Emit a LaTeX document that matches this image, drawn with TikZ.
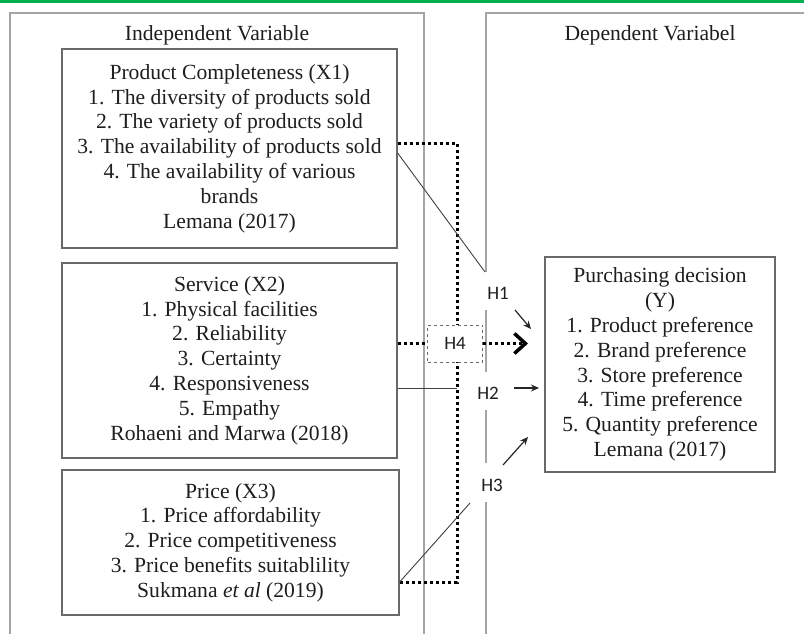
\documentclass[tikz,border=0pt]{standalone}
\usepackage{fontspec}
\setmainfont{Liberation Serif}
\newfontfamily\hfont{Carlito}
\usetikzlibrary{arrows.meta,calc}
\definecolor{topgreen}{RGB}{0,176,80}
\definecolor{boxgray}{RGB}{105,105,105}
\definecolor{outergray}{RGB}{165,165,165}
\definecolor{txt}{RGB}{30,30,30}
\begin{document}
\begin{tikzpicture}[x=1pt,y=-1pt,
  varbox/.style={draw=boxgray,line width=1.3pt,fill=white,align=center,inner sep=0pt,text=txt,font=\fontsize{21.6}{24.8}\selectfont},
  outer/.style={draw=outergray,line width=2pt},
  titletext/.style={text=txt,font=\fontsize{21.6}{24.8}\selectfont,inner sep=0pt},
  hlabel/.style={text=txt,font=\hfont\fontsize{19}{21}\selectfont,inner sep=1pt},
  h4line/.style={line width=3pt,dash pattern=on 3pt off 3pt,black},
  harrow/.style={line width=1.2pt,black!85,-{Stealth[length=8pt,width=7pt]}},
  hline/.style={line width=0.9pt,black!75}
]
\fill[white] (0,0) rectangle (804,634);
\useasboundingbox (0,0) rectangle (804,634);
\draw[topgreen,line width=3pt] (0,1.5) -- (804,1.5);

% outer frames
\draw[outer] (10,634) -- (10,13) -- (424,13) -- (424,634);
\draw[outer] (804,13) -- (486,13) -- (486,272);
\draw[outer] (486,310) -- (486,372);
\draw[outer] (486,410) -- (486,463);
\draw[outer] (486,502) -- (486,634);

\node[titletext] (ivlabel) at (217,35) {Independent Variable};
\node[titletext] (dvlabel) at (650,35) {Dependent Variabel};

% dotted H4 route
\coordinate (dtop) at (457,143);
\coordinate (dbot) at (457,582);

% variable boxes
\node[varbox,minimum width=335pt,minimum height=199pt] (pc) at (229.5,148.5)
 {Product Completeness (X1)\\1. The diversity of products sold\\2. The variety of products sold\\3. The availability of products sold\\4. The availability of various\\brands\\Lemana (2017)};
\node[varbox,minimum width=335pt,minimum height=195pt] (sv) at (229.5,360.5)
 {Service (X2)\\1. Physical facilities\\2. Reliability\\3. Certainty\\4. Responsiveness\\5. Empathy\\Rohaeni and Marwa (2018)};
\node[varbox,minimum width=337pt,minimum height=145pt] (pr) at (230.5,542.5)
 {Price (X3)\\1. Price affordability\\2. Price competitiveness\\3. Price benefits suitablility\\Sukmana \textit{et al} (2019)};
\node[varbox,minimum width=230pt,minimum height=215pt] (pd) at (660,364.5)
 {Purchasing decision\\(Y)\\1. Product preference\\2. Brand preference\\3. Store preference\\4. Time preference\\5. Quantity preference\\Lemana (2017)};

\draw[h4line] (pc.east |- dtop) -- (dtop) -- (dbot) -- (pr.east |- dbot);

% H4
\node[draw=boxgray,dashed,line width=0.8pt,fill=white,minimum width=55pt,minimum height=37pt,hlabel] (h4) at (455,343.5) {H4};
\draw[h4line] (sv.east |- h4.west) -- (h4.west);
\coordinate (h4tip) at (528,343.5);
\draw[h4line,-{Straight Barb[length=11pt,width=20pt,line width=3.5pt]}] (h4.east) -- (h4tip);

% H1
\coordinate (h1end) at (485,272);
\draw[hline] (pc.east |- 0,153) -- (h1end);
\node[hlabel] (h1) at (498,293) {H1};
\coordinate (h1a) at (515,310);
\coordinate (h1b) at (531,329);
\draw[harrow] (h1a) -- (h1b);

% H2
\coordinate (h2end) at (457,388);
\draw[hline] (sv.east |- h2end) -- (h2end);
\node[hlabel] (h2) at (488,393) {H2};
\coordinate (h2a) at (514,388);
\coordinate (h2b) at (539,388);
\draw[harrow] (h2a) -- (h2b);

% H3
\coordinate (h3end) at (470,503);
\draw[hline] (pr.east |- dbot) -- (h3end);
\node[hlabel] (h3) at (492,485) {H3};
\coordinate (h3a) at (503,465);
\coordinate (h3b) at (528,437);
\draw[harrow] (h3a) -- (h3b);
\end{tikzpicture}
\end{document}
